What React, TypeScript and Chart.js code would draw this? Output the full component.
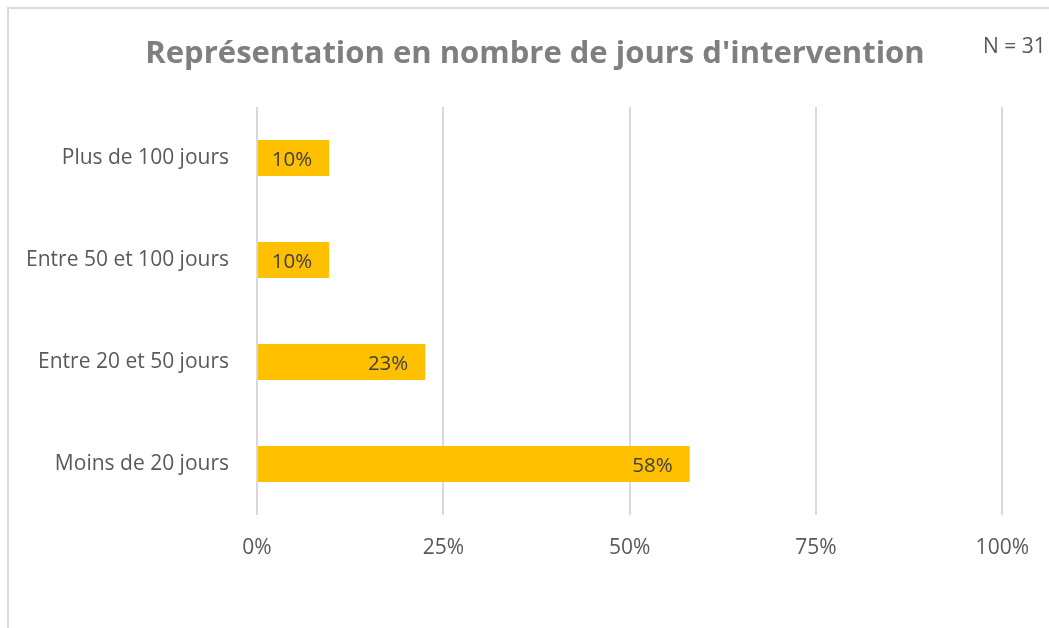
import React, { useEffect, useRef } from "react";
import { Chart, registerables } from "chart.js";

Chart.register(...registerables);

const categories = ["Plus de 100 jours", "Entre 50 et 100 jours", "Entre 20 et 50 jours", "Moins de 20 jours"];
const values = [9.68, 9.68, 22.58, 58.06];
const valueLabels = ["10%", "10%", "23%", "58%"];
const xTicks = [0, 25, 50, 75, 100];
const titleText = "Représentation en nombre de jours d'intervention";
const sampleText = "N = 31";

const FONT = "'Open Sans', 'Noto Sans', sans-serif";

export default function App() {
  const ref = useRef<HTMLCanvasElement | null>(null);

  useEffect(() => {
    if (!ref.current) return;
    const overlay = {
      id: "overlay",
      afterDatasetsDraw(chart: any) {
        const ctx = chart.ctx;
        const meta = chart.getDatasetMeta(0);
        ctx.save();
        ctx.font = `20.5px ${FONT}`;
        ctx.fillStyle = "#404040";
        ctx.textAlign = "right";
        ctx.textBaseline = "alphabetic";
        meta.data.forEach((bar: any, i: number) => {
          ctx.fillText(valueLabels[i], bar.x - 17, bar.y + 7.5);
        });
        ctx.restore();
      },
      afterDraw(chart: any) {
        const ctx = chart.ctx;
        ctx.save();
        ctx.font = `bold 31px ${FONT}`;
        ctx.fillStyle = "#7F7F7F";
        ctx.textAlign = "center";
        ctx.textBaseline = "alphabetic";
        ctx.fillText(titleText, 526, 54);
        ctx.font = `21px ${FONT}`;
        ctx.fillStyle = "#595959";
        ctx.textAlign = "left";
        ctx.fillText(sampleText, 974, 44);
        ctx.restore();
      },
    };
    const chart = new Chart(ref.current, {
      type: "bar",
      data: {
        labels: categories,
        datasets: [
          {
            data: values,
            backgroundColor: "#FFC000",
            borderWidth: 0,
            barPercentage: 0.353,
            categoryPercentage: 1,
          },
        ],
      },
      options: {
        indexAxis: "y",
        animation: false,
        responsive: false,
        maintainAspectRatio: false,
        layout: { padding: { top: 98, right: 44, bottom: 0, left: 0 } },
        plugins: {
          legend: { display: false },
          title: { display: false },
          tooltip: { enabled: false },
        },
        scales: {
          x: {
            min: 0,
            max: 100,
            afterBuildTicks(scale: any) {
              scale.ticks = xTicks.map((v) => ({ value: v }));
            },
            afterFit(scale: any) {
              scale.height = 113;
            },
            grid: { color: "#D9D9D9", lineWidth: 2, drawTicks: false },
            border: { display: false },
            ticks: {
              padding: 20,
              color: "#595959",
              font: { family: FONT, size: 21 },
              callback: (v: any) => `${v}%`,
              maxRotation: 0,
            },
          },
          y: {
            afterFit(scale: any) {
              scale.width = 248;
            },
            grid: { display: false, drawTicks: false },
            border: { display: false },
            ticks: {
              padding: 28,
              color: "#595959",
              font: { family: FONT, size: 21 },
            },
          },
        },
      },
      plugins: [overlay],
    });
    return () => chart.destroy();
  }, []);

  return (
    <div
      style={{
        position: "fixed",
        left: 7,
        top: 7,
        width: 1042,
        height: 621,
        boxSizing: "border-box",
        borderLeft: "2px solid #D9D9D9",
        borderTop: "2px solid #D9D9D9",
        background: "#fff",
      }}
    >
      <canvas ref={ref} width={1040} height={619} style={{ display: "block" }} />
    </div>
  );
}
